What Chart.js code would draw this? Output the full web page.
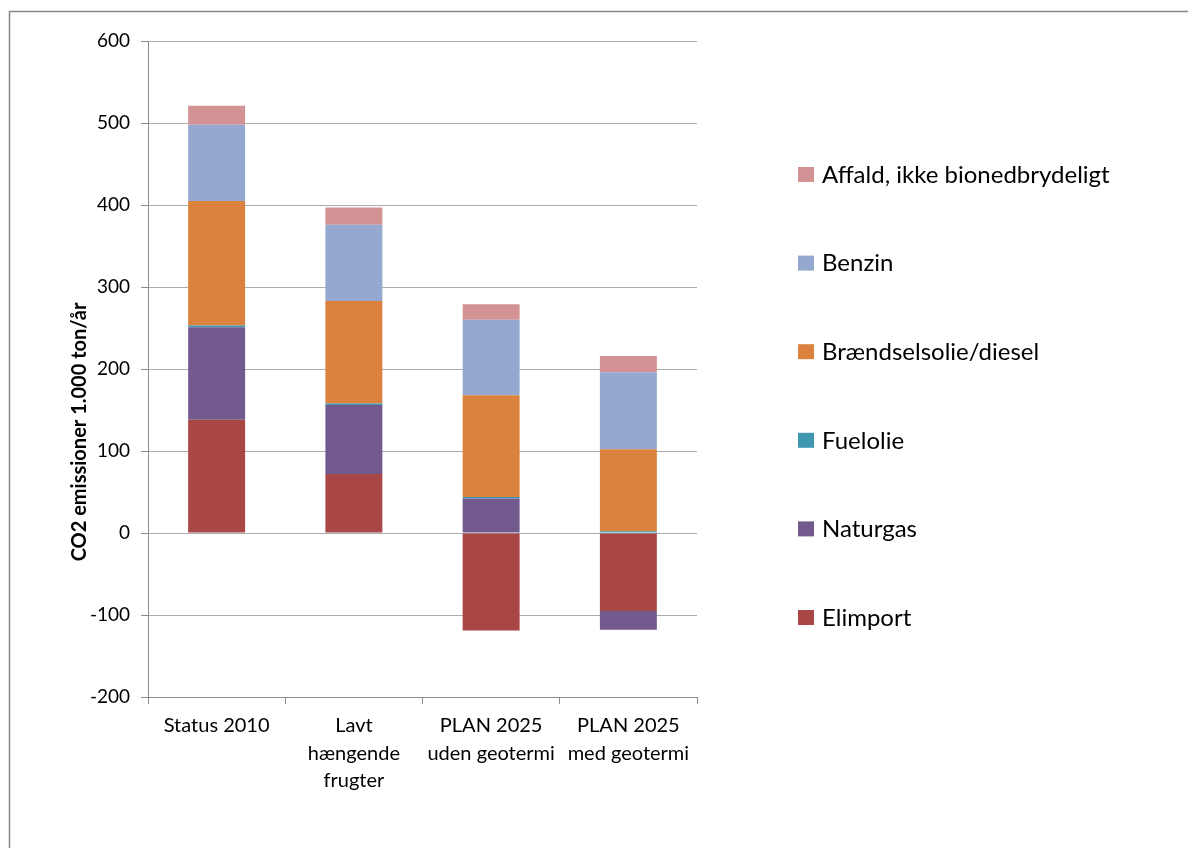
<!DOCTYPE html>
<html>
<head>
<meta charset="utf-8">
<script src="https://cdn.jsdelivr.net/npm/chart.js@4/dist/chart.umd.min.js"></script>
<style>
  html, body { margin: 0; padding: 0; background: #fff; overflow: hidden; }
  #wrap { width: 1188px; height: 848px; }
</style>
</head>
<body>
<div id="wrap"><canvas id="c" width="1188" height="848"></canvas></div>
<script>
// CO2 emissions per scenario, 1.000 ton/år
const categories = [
  'Status 2010',
  ['Lavt', 'hængende', 'frugter'],
  ['PLAN 2025', 'uden geotermi'],
  ['PLAN 2025', 'med geotermi']
];
const elimport   = [138, 72, -119, -95];
const naturgas   = [113, 84, 42, -23];
const fuelolie   = [2, 2, 2, 2];
const braendsel  = [152, 125, 124, 100];
const benzin     = [93, 93, 92, 94];
const affald     = [23, 21, 19, 20];

const seriesNames = ['Elimport', 'Naturgas', 'Fuelolie', 'Brændselsolie/diesel', 'Benzin', 'Affald, ikke bionedbrydeligt'];
const seriesColors = ['#A84745', '#725A8E', '#3F98AF', '#DB833E', '#95A9D0', '#D39293'];
const yTicks = [-200, -100, 0, 100, 200, 300, 400, 500, 600];
const yTitle = 'CO2 emissioner 1.000 ton/år';

const FONT = 'Lato, "Open Sans", sans-serif';

// outer frame, rotated y-axis title and the right-hand legend
const decorPlugin = {
  id: 'decor',
  beforeDraw(chart) {
    const ctx = chart.ctx;
    ctx.save();
    ctx.strokeStyle = '#878787';
    ctx.lineWidth = 1.5;
    ctx.beginPath();
    ctx.moveTo(9.5, 860);
    ctx.lineTo(9.5, 11.5);
    ctx.lineTo(1200, 11.5);
    ctx.stroke();
    ctx.restore();
  },
  afterDraw(chart) {
    const ctx = chart.ctx;
    const ds = chart.data.datasets;
    ctx.save();
    // y-axis title
    ctx.translate(80, 432);
    ctx.rotate(-Math.PI / 2);
    ctx.font = 'bold 20px ' + FONT;
    ctx.textAlign = 'center';
    ctx.textBaseline = 'middle';
    ctx.fillStyle = '#000';
    ctx.fillText(yTitle, 0, 0);
    ctx.restore();

    ctx.save();
    ctx.font = '24px ' + FONT;
    ctx.textBaseline = 'middle';
    const top = 174, step = 88.6;
    for (let i = ds.length - 1, k = 0; i >= 0; i--, k++) {
      const y = top + k * step;
      ctx.fillStyle = ds[i].backgroundColor;
      ctx.fillRect(798, y - 7, 16, 15);
      ctx.fillStyle = '#000';
      ctx.fillText(ds[i].label, 822, y + 1);
    }
    ctx.restore();
  }
};

const data = [elimport, naturgas, fuelolie, braendsel, benzin, affald];

new Chart(document.getElementById('c'), {
  type: 'bar',
  data: {
    labels: categories,
    datasets: data.map((vals, i) => ({
      label: seriesNames[i],
      data: vals,
      backgroundColor: seriesColors[i],
      borderWidth: 0,
      categoryPercentage: 1,
      barPercentage: 0.415
    }))
  },
  options: {
    responsive: false,
    animation: false,
    devicePixelRatio: 1,
    layout: { padding: { left: 0, top: 41, right: 491, bottom: 0 } },
    plugins: {
      legend: { display: false },
      tooltip: { enabled: false }
    },
    scales: {
      x: {
        stacked: true,
        grid: { display: true, drawOnChartArea: false, drawTicks: true, tickLength: 7, offset: true, color: '#8C8C8C' },
        border: { display: true, color: '#8C8C8C' },
        ticks: { color: '#000', font: { family: FONT, size: 20, lineHeight: 1.38 }, padding: 8, maxRotation: 0, autoSkip: false },
        afterFit(scale) { scale.height = 151; }
      },
      y: {
        stacked: true,
        min: -200,
        max: 600,
        afterBuildTicks(scale) { scale.ticks = yTicks.map(v => ({ value: v })); },
        grid: { color: '#ABABAB', tickLength: 7, drawTicks: true, tickColor: '#8C8C8C' },
        border: { display: true, color: '#8C8C8C' },
        ticks: { color: '#000', font: { family: FONT, size: 19 }, padding: 11 },
        afterFit(scale) { scale.width = 148; }
      }
    }
  },
  plugins: [decorPlugin]
});
</script>
</body>
</html>
